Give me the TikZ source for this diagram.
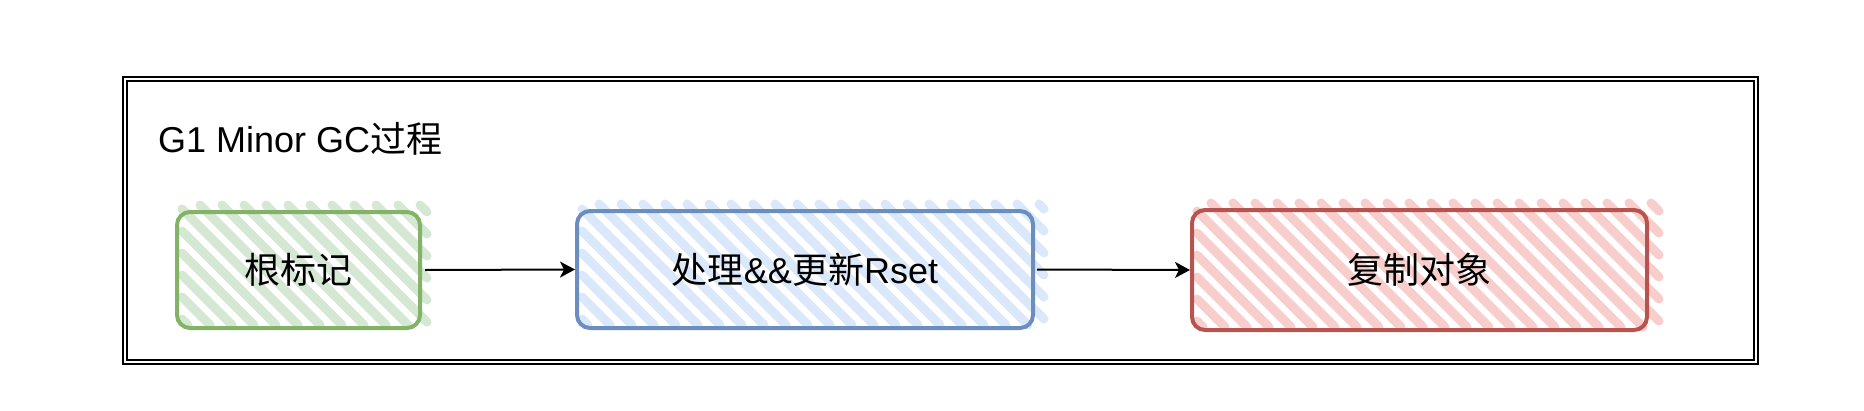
\documentclass[tikz,border=0pt]{standalone}
\usepackage{fontspec}
\setmainfont{Liberation Sans}
\newfontfamily\cjk{Noto Sans CJK SC}
\usetikzlibrary{arrows.meta}
\definecolor{gstroke}{HTML}{82B366}
\definecolor{gfill}{HTML}{D5E8D4}
\definecolor{bstroke}{HTML}{6C8EBF}
\definecolor{bfill}{HTML}{DAE8FC}
\definecolor{rstroke}{HTML}{B85450}
\definecolor{rfill}{HTML}{F8CECC}
\newcommand\myhatch[5]{%
  \pgfmathsetmacro\cmin{#1-#4}%
  \pgfmathsetmacro\cmax{#3-#2}%
  \pgfmathtruncatemacro\nmax{(\cmax-\cmin)/22}%
  \foreach \i in {0,...,\nmax}{%
    \pgfmathsetmacro\c{\cmin+22*\i+6}%
    \pgfmathsetmacro\sx{max(#1,\c+#2)}%
    \pgfmathsetmacro\ex{min(#3,\c+#4)}%
    \pgfmathsetmacro\sy{\sx-\c}%
    \pgfmathsetmacro\ey{\ex-\c}%
    \ifdim\sx pt<\ex pt
      \draw[hatchline,#5] (\sx,\sy) -- (\ex,\ey);
    \fi
  }%
}
\begin{document}
\begin{tikzpicture}[x=1pt,y=-1pt,
  hatchline/.style={line width=9pt,line cap=round},
  stepbox/.style={draw,rounded corners=13pt,line width=4pt,inner sep=0pt,
    font=\fontsize{36}{43}\selectfont},
  flow/.style={line width=2pt,-{Stealth[length=15pt,width=16pt,inset=4pt]}},
  frame/.style={draw,line width=1.7pt,double,double distance=2.4pt}]
\useasboundingbox (0,0) rectangle (1864,410);
% outer frame
\path[frame] (125,79) rectangle (1756,362);
% hatch fills
\myhatch{182}{205}{427}{325}{gfill}
\myhatch{582}{204}{1044}{325}{bfill}
\myhatch{1197}{203}{1659}{327}{rfill}
% title
\node[anchor=base west,inner sep=0pt,font=\fontsize{36}{43}\selectfont] (title) at (158,152) {G1 Minor GC{\cjk 过程}};
% boxes
\node[stepbox,draw=gstroke,minimum width=243pt,minimum height=116pt] (g) at (298.5,270) {\cjk 根标记};
\node[stepbox,draw=bstroke,minimum width=456pt,minimum height=117pt] (b) at (805,269.5) {{\cjk 处理}\&\&{\cjk 更新}Rset};
\node[stepbox,draw=rstroke,minimum width=455pt,minimum height=120pt] (r) at (1419.5,270) {\cjk 复制对象};
% arrows
\draw[flow] ([xshift=3pt]g.east) -- (b.west);
\draw[flow] ([xshift=2pt]b.east) -- (r.west);
\end{tikzpicture}
\end{document}
